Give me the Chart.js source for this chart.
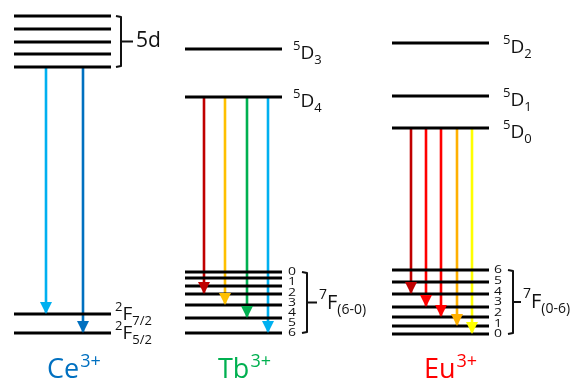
<!DOCTYPE html>
<html>
<head>
<meta charset="utf-8">
<script src="https://cdn.jsdelivr.net/npm/chart.js@4.4.1/dist/chart.umd.min.js"></script>
<style>
  html, body { margin: 0; padding: 0; background: #fff; }
  canvas { display: block; }
</style>
</head>
<body>
<canvas id="levels" width="571" height="385"></canvas>
<script>
// level energies, arbitrary units (ground at the bottom)
const ions = ['Ce', 'Tb', 'Eu'];
const ionColors = ['#0070C0', '#00B050', '#FF0000'];

const ceUpper = [369, 356, 343, 331, 318];          // 5d
const ceLower = [71, 52];                            // 2F7/2, 2F5/2
const ceLowerNames = ['7/2', '5/2'];

const tbUpper = [336, 288];                          // 5D3, 5D4
const tbUpperNames = ['3', '4'];
const tbLower = [113, 107, 99, 91, 80, 67, 52];      // 7F0 .. 7F6
const tbLowerNames = ['0', '1', '2', '3', '4', '5', '6'];

const euUpper = [342, 289, 257];                     // 5D2, 5D1, 5D0
const euUpperNames = ['2', '1', '0'];
const euLower = [115, 103, 91, 78, 68, 59, 51];      // 7F6 .. 7F0
const euLowerNames = ['6', '5', '4', '3', '2', '1', '0'];

// emission: from one upper level to lower levels (indexes)
const ceFrom = 4, ceTo = [0, 1];
const ceArrowColors = ['#00B0F0', '#0070C0'];
const tbFrom = 1, tbTo = [3, 4, 5, 6];
const tbArrowColors = ['#C00000', '#FFC000', '#00B050', '#00B0F0'];
const euFrom = 2, euTo = [2, 3, 4, 5, 6];
const euArrowColors = ['#C00000', '#FF0000', '#FF0000', '#FFB000', '#FFFF00'];

// layout (canvas units)
const colLeft = [14, 185, 392];
const colWidth = 97;
const ceArrowX = [32, 69];
const tbArrowX = [19, 40, 62, 83];
const euArrowX = [19, 34, 49, 65, 80];
const FONT = '"Open Sans", "DejaVu Sans", sans-serif';

function levelSet(col, e) {
    return {
        data: [{ x: colLeft[col], y: e }, { x: colLeft[col] + colWidth, y: e }],
        borderColor: '#000', borderWidth: 3, pointRadius: 0, showLine: true, order: 1
    };
}

function arrowSet(col, dx, from, to, color) {
    return {
        data: [{ x: colLeft[col] + dx, y: from }, { x: colLeft[col] + dx, y: to }],
        borderColor: color, borderWidth: 2.6, pointRadius: 0, showLine: true, order: 2, arrow: true
    };
}

const datasets = [];
ceTo.forEach((t, i) => datasets.push(arrowSet(0, ceArrowX[i], ceUpper[ceFrom], ceLower[t], ceArrowColors[i])));
tbTo.forEach((t, i) => datasets.push(arrowSet(1, tbArrowX[i], tbUpper[tbFrom], tbLower[t], tbArrowColors[i])));
euTo.forEach((t, i) => datasets.push(arrowSet(2, euArrowX[i], euUpper[euFrom], euLower[t], euArrowColors[i])));
[ceUpper, ceLower].forEach(a => a.forEach(e => datasets.push(levelSet(0, e))));
[tbUpper, tbLower].forEach(a => a.forEach(e => datasets.push(levelSet(1, e))));
[euUpper, euLower].forEach(a => a.forEach(e => datasets.push(levelSet(2, e))));

const arrowHeads = {
    id: 'arrowHeads',
    afterDatasetsDraw(chart) {
        const ctx = chart.ctx;
        chart.data.datasets.forEach((ds, i) => {
            if (!ds.arrow) return;
            const p = chart.getDatasetMeta(i).data[1];
            ctx.save();
            ctx.fillStyle = ds.borderColor;
            ctx.beginPath();
            ctx.moveTo(p.x, p.y);
            ctx.lineTo(p.x - 6, p.y - 12);
            ctx.lineTo(p.x + 6, p.y - 12);
            ctx.closePath();
            ctx.fill();
            ctx.restore();
        });
    }
};

// term symbol like  ^5D_3 , y is the baseline of the big letter
function term(ctx, x, y, sup, main, sub, size, small) {
    ctx.textAlign = 'left';
    ctx.textBaseline = 'alphabetic';
    ctx.font = small + 'px ' + FONT;
    ctx.fillText(sup, x, y - size * 0.48);
    x += ctx.measureText(sup).width;
    ctx.font = size + 'px ' + FONT;
    ctx.fillText(main, x, y);
    x += ctx.measureText(main).width;
    if (sub) {
        ctx.font = small + 'px ' + FONT;
        ctx.fillText(sub, x, y + size * 0.27);
    }
}

function brace(ctx, xv, yTop, yBot, hook, tick) {
    const mid = (yTop + yBot) / 2;
    ctx.beginPath();
    ctx.moveTo(xv - hook, yTop);
    ctx.lineTo(xv, yTop + 1);
    ctx.lineTo(xv, yBot - 1);
    ctx.lineTo(xv - hook, yBot);
    ctx.moveTo(xv, mid);
    ctx.lineTo(xv + tick, mid);
    ctx.stroke();
    return mid;
}

const labels = {
    id: 'labels',
    afterDraw(chart) {
        const ctx = chart.ctx;
        const y = chart.scales.y;
        const right = colLeft.map(l => l + colWidth);
        ctx.save();
        ctx.fillStyle = '#111';
        ctx.strokeStyle = '#111';
        ctx.lineWidth = 2;
        ctx.lineJoin = 'round';

        // Ce
        let m = brace(ctx, right[0] + 10, y.getPixelForValue(ceUpper[0]), y.getPixelForValue(ceUpper[4]), 5, 12);
        ctx.font = '21px ' + FONT;
        ctx.textBaseline = 'middle';
        ctx.fillText('5d', right[0] + 25, m);
        ceLower.forEach((e, i) => term(ctx, right[0] + 4, y.getPixelForValue(e) + 6, '2', 'F', ceLowerNames[i], 19, 13));

        // Tb
        tbUpper.forEach((e, i) => term(ctx, right[1] + 11, y.getPixelForValue(e) + 10, '5', 'D', tbUpperNames[i], 19, 13));
        let t0 = y.getPixelForValue(tbLower[0]), t1 = y.getPixelForValue(tbLower[tbLower.length - 1]);
        m = brace(ctx, right[1] + 25, t0, t1, 5, 10);
        term(ctx, right[1] + 37, m + 6, '7', 'F', '(6-0)', 20, 14);

        // Eu
        euUpper.forEach((e, i) => term(ctx, right[2] + 14, y.getPixelForValue(e) + 10, '5', 'D', euUpperNames[i], 19, 13));
        let u0 = y.getPixelForValue(euLower[0]), u1 = y.getPixelForValue(euLower[euLower.length - 1]);
        m = brace(ctx, right[2] + 24, u0, u1, 5, 8);
        term(ctx, right[2] + 34, m + 6, '7', 'F', '(0-6)', 20, 14);

        // sub-level numbers, squeezed in a column
        [[tbLowerNames, t0, t1, right[1] + 10], [euLowerNames, u0, u1, right[2] + 9]].forEach(([names, a, b, x]) => {
            ctx.font = '14px ' + FONT;
            ctx.textAlign = 'center';
            ctx.textBaseline = 'middle';
            names.forEach((n, i) => {
                const yy = a + (b - a) * i / (names.length - 1);
                ctx.save();
                ctx.translate(x, yy);
                ctx.scale(1.0, 0.8);
                ctx.fillText(n, 0, 0);
                ctx.restore();
            });
        });

        // ion names
        const ionX = [47, 218, 424];
        ions.forEach((name, i) => {
            ctx.fillStyle = ionColors[i];
            term(ctx, ionX[i], 378, '', name, '', 27, 18);
            ctx.font = '27px ' + FONT;
            const w = ctx.measureText(name).width;
            ctx.font = '18px ' + FONT;
            ctx.fillText('3+', ionX[i] + w + 1, 367);
        });
        ctx.restore();
    }
};

new Chart(document.getElementById('levels'), {
    type: 'scatter',
    data: { datasets: datasets },
    options: {
        responsive: false,
        animation: false,
        layout: { padding: 0 },
        scales: {
            x: { type: 'linear', min: 0, max: 571, display: false },
            y: { type: 'linear', min: 0, max: 385, display: false }
        },
        plugins: { legend: { display: false }, tooltip: { enabled: false } }
    },
    plugins: [arrowHeads, labels]
});
</script>
</body>
</html>
